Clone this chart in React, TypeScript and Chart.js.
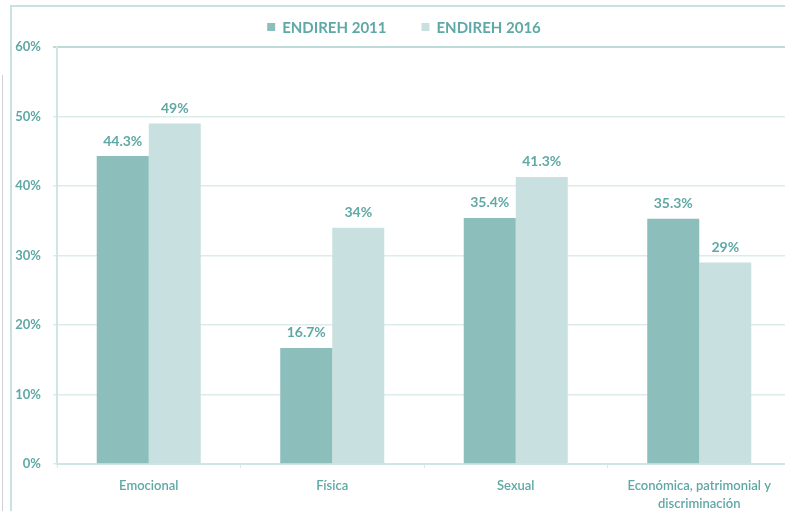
import React, { useEffect, useRef } from "react";
import { Chart, registerables } from "chart.js";

Chart.register(...registerables);

const categories: (string | string[])[] = [
  "Emocional",
  "Física",
  "Sexual",
  ["Económica, patrimonial y", "discriminación"],
];
const seriesLabels = ["ENDIREH 2011", "ENDIREH 2016"];
const values2011 = [44.3, 16.7, 35.4, 35.3];
const values2016 = [49, 34, 41.3, 29];
const labels2011 = ["44.3%", "16.7%", "35.4%", "35.3%"];
const labels2016 = ["49%", "34%", "41.3%", "29%"];
const yTicks = [0, 10, 20, 30, 40, 50, 60];

const DARK = "#8CBFBC";
const LIGHT = "#C8E1E0";
const TEXT = "#5EA8A5";
const FONT = "Lato, 'Open Sans', sans-serif";

const valueLabelPlugin = {
  id: "valueLabels",
  afterDatasetsDraw(chart: any) {
    const ctx = chart.ctx;
    const texts = [labels2011, labels2016];
    ctx.save();
    ctx.fillStyle = TEXT;
    ctx.font = `bold 14px ${FONT}`;
    ctx.textAlign = "center";
    ctx.textBaseline = "middle";
    chart.data.datasets.forEach((ds: any, di: number) => {
      const meta = chart.getDatasetMeta(di);
      meta.data.forEach((bar: any, i: number) => {
        ctx.fillText(texts[di][i], bar.x, bar.y - 15);
      });
    });
    ctx.restore();
  },
};

const legendPlugin = {
  id: "customLegend",
  afterDraw(chart: any) {
    const ctx = chart.ctx;
    ctx.save();
    ctx.font = `bold 15px ${FONT}`;
    ctx.textBaseline = "middle";
    const box = 8;
    const gapBoxText = 7;
    const gapItems = 35;
    const items = chart.data.datasets.map((d: any) => ({
      label: d.label,
      color: d.backgroundColor,
      w: ctx.measureText(d.label).width,
    }));
    const total =
      items.reduce((s: number, it: any) => s + box + gapBoxText + it.w, 0) +
      gapItems * (items.length - 1);
    let x = 404 - total / 2;
    const y = 27;
    items.forEach((it: any) => {
      ctx.fillStyle = it.color;
      ctx.fillRect(x, y - box / 2, box, box);
      x += box + gapBoxText;
      ctx.fillStyle = TEXT;
      ctx.fillText(it.label, x, y + 1);
      x += it.w + gapItems;
    });
    ctx.restore();
  },
};

export default function App() {
  const ref = useRef<HTMLCanvasElement>(null);

  useEffect(() => {
    document.body.style.margin = "0";
    const chart = new Chart(ref.current!, {
      type: "bar",
      data: {
        labels: categories,
        datasets: [
          {
            label: seriesLabels[0],
            data: values2011,
            backgroundColor: DARK,
            categoryPercentage: 0.567,
            barPercentage: 1,
          },
          {
            label: seriesLabels[1],
            data: values2016,
            backgroundColor: LIGHT,
            categoryPercentage: 0.567,
            barPercentage: 1,
          },
        ],
      },
      options: {
        responsive: false,
        animation: false,
        layout: { padding: { top: 47, right: 9, left: 0, bottom: 0 } },
        plugins: {
          legend: { display: false },
          tooltip: { enabled: false },
        },
        scales: {
          x: {
            afterFit(scale: any) {
              scale.height = 47;
            },
            grid: {
              drawOnChartArea: false,
              drawTicks: true,
              tickLength: 4,
              color: "#D6E9E8",
            },
            border: { color: "#D0E6E5", width: 2 },
            ticks: {
              color: TEXT,
              font: { family: FONT, size: 13, weight: "600", lineHeight: 1.35 },
              padding: 9,
              maxRotation: 0,
              autoSkip: false,
            },
          },
          y: {
            min: 0,
            max: 60,
            afterFit(scale: any) {
              scale.width = 57;
            },
            afterBuildTicks(scale: any) {
              scale.ticks = yTicks.map((v) => ({ value: v }));
            },
            grid: {
              color: (c: any) => (c.tick && c.tick.value === 60 ? "#BEDBDA" : "#DCECEB"),
              lineWidth: (c: any) => (c.tick && c.tick.value === 60 ? 2 : 1.5),
              tickLength: 4,
            },
            border: { color: "#D0E6E5", width: 2 },
            ticks: {
              color: TEXT,
              font: { family: FONT, size: 13, weight: "bold" },
              padding: 12,
              callback: (v: any) => `${v}%`,
            },
          },
        },
      },
      plugins: [valueLabelPlugin, legendPlugin],
    });
    return () => chart.destroy();
  }, []);

  return (
    <div
      style={{
        position: "relative",
        width: 785,
        height: 511,
        overflow: "hidden",
        background: "#fff",
      }}
    >
      <div
        style={{
          position: "absolute",
          left: 2,
          top: 75,
          width: 1,
          height: 440,
          background: "#D0D0D0",
        }}
      />
      <div
        style={{
          position: "absolute",
          left: 10,
          top: 5,
          width: 800,
          height: 520,
          borderLeft: "2px solid #C9E2E1",
          borderTop: "2px solid #C9E2E1",
        }}
      />
      <canvas
        ref={ref}
        width={800}
        height={511}
        style={{ position: "absolute", left: 0, top: 0 }}
      />
    </div>
  );
}
